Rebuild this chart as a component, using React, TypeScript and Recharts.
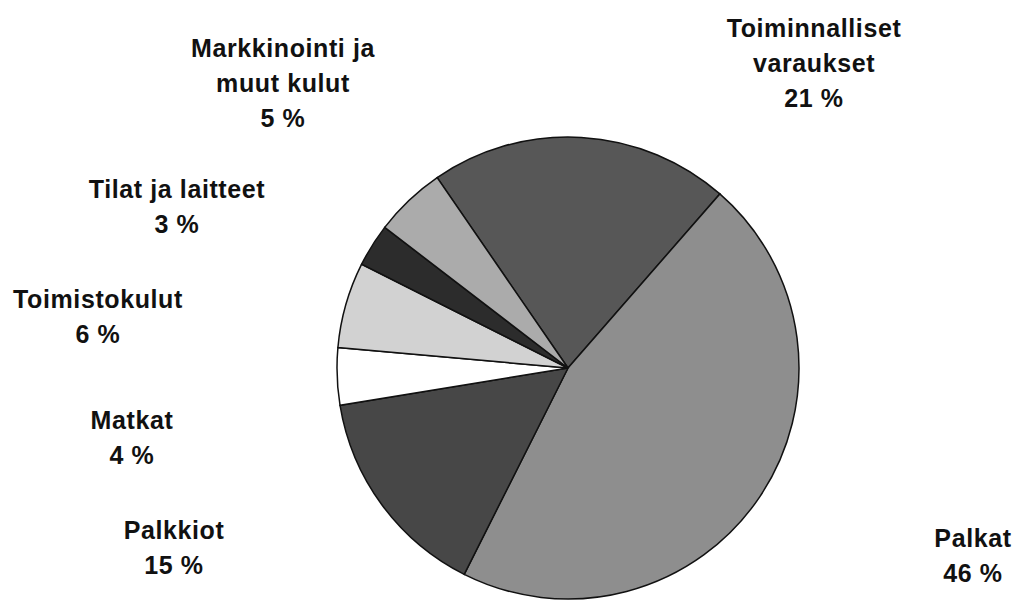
import React from "react";
import { Cell, Pie, PieChart } from "recharts";

const categories = [
  ["Toiminnalliset", "varaukset"],
  ["Palkat"],
  ["Palkkiot"],
  ["Matkat"],
  ["Toimistokulut"],
  ["Tilat ja laitteet"],
  ["Markkinointi ja", "muut kulut"],
];
const shares = [21, 46, 15, 4, 6, 3, 5];
const sliceColors = ["#575757", "#8e8e8e", "#474747", "#ffffff", "#d2d2d2", "#2c2c2c", "#ababab"];

// where Excel put each label (centre x, first baseline)
const labelSpots = [
  [814, 37],
  [973, 547],
  [174, 539],
  [132, 429],
  [98, 308],
  [177, 198],
  [283, 57],
];

const data = categories.map((lines, i) => ({ name: lines.join(" "), value: shares[i] }));

function renderLabel(props: any) {
  const i = props.index;
  const [x, y] = labelSpots[i];
  const lines = [...categories[i], `${shares[i]} %`];
  return (
    <text
      x={x}
      y={y}
      textAnchor="middle"
      fill="#111"
      fontFamily="'Liberation Sans', Arial, sans-serif"
      fontWeight="bold"
      fontSize={25}
      letterSpacing={0.6}
    >
      {lines.map((t, k) => (
        <tspan key={k} x={x} y={y + k * 35}>
          {t}
        </tspan>
      ))}
    </text>
  );
}

export default function App() {
  return (
    <div style={{ position: "absolute", left: 0, top: 0, width: 1017, height: 601, background: "#fff" }}>
      <PieChart width={1017} height={601} margin={{ top: 0, right: 0, bottom: 0, left: 0 }}>
        <Pie
          data={data}
          dataKey="value"
          nameKey="name"
          cx={568}
          cy={368}
          outerRadius={231}
          startAngle={124.5}
          endAngle={-235.5}
          stroke="#111"
          strokeWidth={1.5}
          label={renderLabel}
          labelLine={false}
          isAnimationActive={false}
        >
          {data.map((d, i) => (
            <Cell key={d.name} fill={sliceColors[i]} />
          ))}
        </Pie>
      </PieChart>
    </div>
  );
}
